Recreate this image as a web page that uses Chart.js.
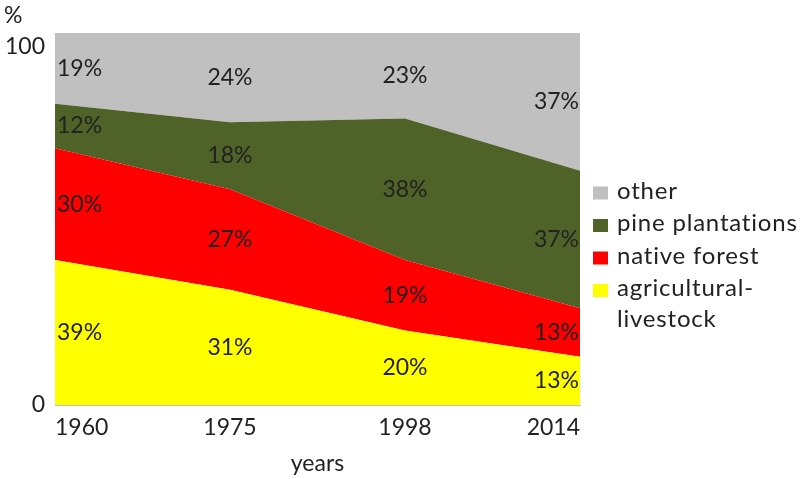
<!DOCTYPE html>
<html>
<head>
<meta charset="utf-8">
<script src="https://cdn.jsdelivr.net/npm/chart.js@4/dist/chart.umd.min.js"></script>
<style>
html,body{margin:0;padding:0;background:#fff;}
#wrap{width:800px;height:479px;position:relative;}
</style>
</head>
<body>
<div id="wrap"><canvas id="c" width="800" height="479"></canvas></div>
<script>
const years = ['1960', '1975', '1998', '2014'];
const agricultural = [39, 31, 20, 13];
const nativeForest = [30, 27, 19, 13];
const pine = [12, 18, 38, 37];
const other = [19, 24, 23, 37];
const seriesNames = ['agricultural-livestock', 'native forest', 'pine plantations', 'other'];
const yTicks = [0, 100];

const FONT = 'Lato';
const TXT = '#222222';

const labelPlugin = {
  id: 'valueLabels',
  afterDatasetsDraw(chart) {
    const ctx = chart.ctx;
    const xs = chart.scales.x, ys = chart.scales.y;
    const ds = chart.data.datasets;
    ctx.save();
    ctx.font = '23px ' + FONT;
    ctx.fillStyle = TXT;
    ctx.textBaseline = 'middle';
    const n = chart.data.labels.length;
    for (let j = 0; j < n; j++) {
      let cum = 0;
      for (let i = 0; i < ds.length; i++) {
        const v = ds[i].data[j];
        const y = ys.getPixelForValue(cum + v / 2);
        cum += v;
        let x = xs.getPixelForValue(j);
        if (j === 0) { ctx.textAlign = 'left'; x += 2; }
        else if (j === n - 1) { ctx.textAlign = 'right'; x -= 1; }
        else ctx.textAlign = 'center';
        ctx.fillText(v + '%', x, y);
      }
    }
    ctx.restore();
  },
  afterDraw(chart) {
    const ctx = chart.ctx;
    const ca = chart.chartArea;
    ctx.save();
    ctx.font = '23px ' + FONT;
    ctx.fillStyle = TXT;
    ctx.textBaseline = 'middle';
    ctx.textAlign = 'left';
    // axis unit
    ctx.fillText('%', chart.scales.y.left + 4, 16);
    // legend
    ctx.font = '24px ' + FONT;
    if ('letterSpacing' in ctx) ctx.letterSpacing = '0.8px';
    const items = chart.data.datasets.slice().reverse();
    const lx = ca.right + 13;
    let ly = 193;
    const step = 32.5;
    items.forEach((d) => {
      ctx.fillStyle = d.backgroundColor;
      ctx.fillRect(lx, ly - 6.5, 15, 13);
      ctx.fillStyle = TXT;
      const h = d.label.indexOf('-');
      const parts = h >= 0 ? [d.label.slice(0, h + 1), d.label.slice(h + 1)] : [d.label];
      parts.forEach((p, k) => ctx.fillText(p, lx + 24, ly - 2 + k * 31));
      ly += step;
    });
    ctx.restore();
  }
};

new Chart(document.getElementById('c'), {
  type: 'line',
  data: {
    labels: years,
    datasets: [
      { label: seriesNames[0], data: agricultural, backgroundColor: '#FFFF00', fill: 'origin' },
      { label: seriesNames[1], data: nativeForest, backgroundColor: '#FF0000', fill: '-1' },
      { label: seriesNames[2], data: pine, backgroundColor: '#4F6228', fill: '-1' },
      { label: seriesNames[3], data: other, backgroundColor: '#C0C0C0', fill: '-1' }
    ].map(d => Object.assign(d, { borderWidth: 0, borderColor: 'rgba(0,0,0,0)', pointRadius: 0, tension: 0 }))
  },
  options: {
    responsive: false,
    animation: false,
    layout: { padding: { left: 0, right: 220, top: 33, bottom: 0 } },
    plugins: { legend: { display: false }, tooltip: { enabled: false } },
    scales: {
      x: {
        offset: false,
        grid: { display: false, drawTicks: false },
        border: { display: true, color: '#BFBFBF', width: 1 },
        ticks: { align: 'inner', padding: 9, color: TXT, font: { family: FONT, size: 23 }, maxRotation: 0 },
        title: { display: true, text: 'years', color: TXT, font: { family: FONT, size: 23 }, padding: { top: 0, bottom: 2 } },
        afterFit(s) { s.height = 74; }
      },
      y: {
        stacked: true,
        min: 0, max: 100,
        grid: { display: false, drawTicks: false },
        border: { display: false },
        afterBuildTicks(s) { s.ticks = yTicks.map(v => ({ value: v })); },
        ticks: {
          padding: 10, color: TXT, font: { family: FONT, size: 23, lineHeight: 1.2 },
          callback: (v) => v === 100 ? ['', '100'] : String(v)
        },
        afterFit(s) { s.width = 55; s.paddingTop = 0; s.paddingBottom = 0; }
      }
    }
  },
  plugins: [labelPlugin]
});
</script>
</body>
</html>
